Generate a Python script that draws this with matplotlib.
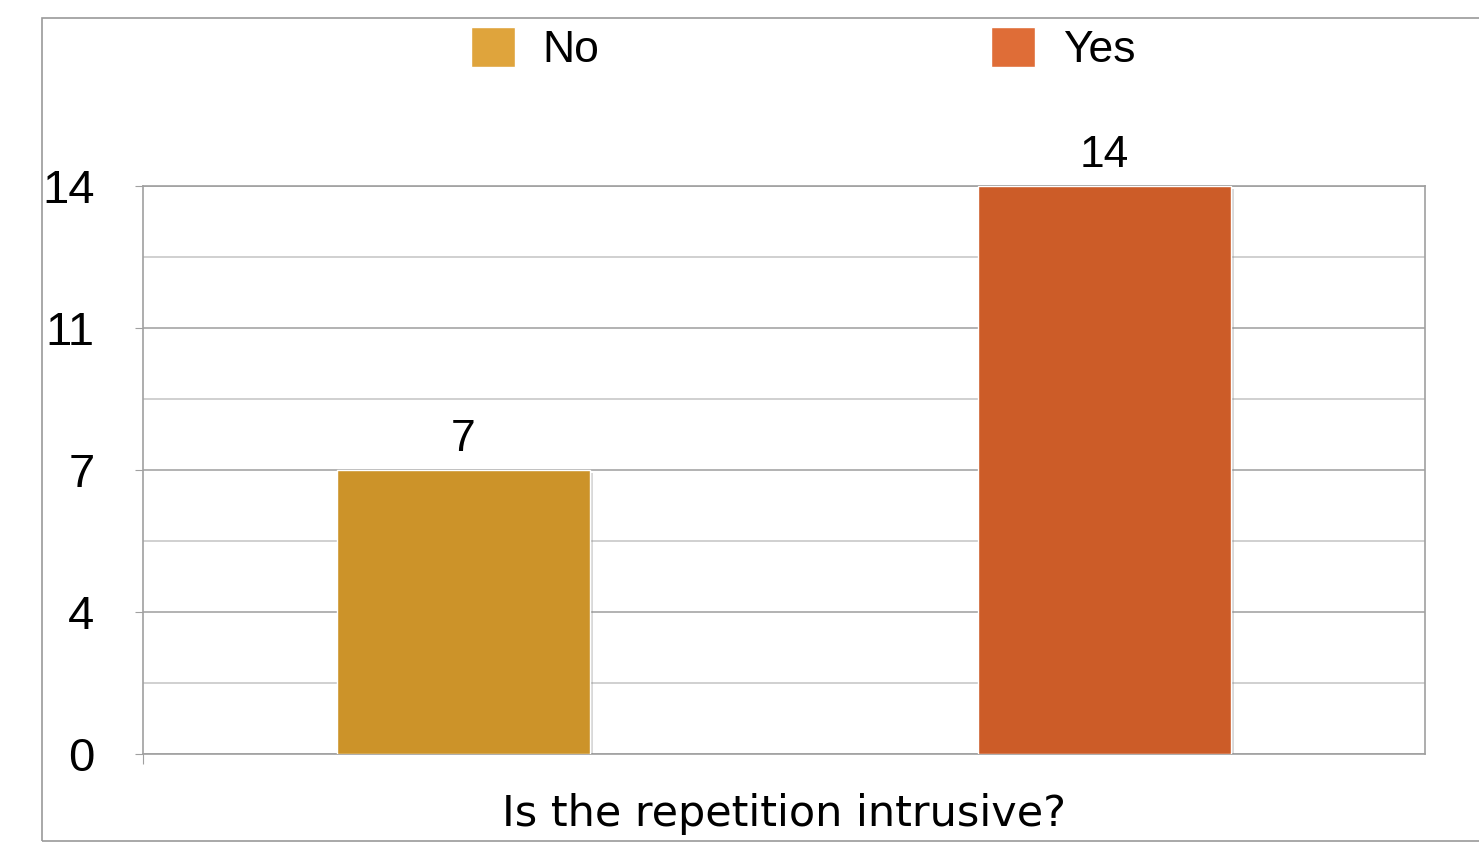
import matplotlib.pyplot as plt
import matplotlib.patheffects as pe
from matplotlib.patches import Rectangle

categories = ["No", "Yes"]
counts = [7, 14]
bar_colors = ["#CC9329", "#CC5C28"]
legend_colors = ["#DFA43C", "#DF6D37"]
y_ticks = [0, 3.5, 7, 10.5, 14]
y_labels = ["0", "4", "7", "11", "14"]
x_label = "Is the repetition intrusive?"

fig = plt.figure(figsize=(14.79, 8.44), dpi=100)
ax = fig.add_axes([143 / 1479, 90 / 844, 1282 / 1479, 568 / 844])

# outer frame of the chart area
fig.patches.append(Rectangle((42 / 1479, 3 / 844), 1.2, 823 / 844,
                             transform=fig.transFigure, fill=False,
                             edgecolor="#9A9A9A", linewidth=1.2))

x = list(range(len(categories)))
bars = ax.bar(x, counts, width=0.396, color=bar_colors, edgecolor="white",
              linewidth=1, zorder=3)
for b in bars:
    b.set_path_effects([pe.SimplePatchShadow(offset=(2, -2), shadow_rgbFace="gray", alpha=0.3),
                        pe.Normal()])

for xi, v in zip(x, counts):
    ax.text(xi, v + 0.25, str(v), ha="center", va="bottom", fontsize=32,
            family="Liberation Sans")

ax.set_xlim(-0.5, 1.5)
ax.set_ylim(0, 14)
ax.set_yticks(y_ticks)
ax.set_yticklabels(y_labels, family="Liberation Sans", fontsize=34)
ax.set_yticks([1.75, 5.25, 8.75, 12.25], minor=True)
ax.tick_params(axis="y", which="major", length=6, color="#A0A0A0", pad=29)
ax.tick_params(axis="y", which="minor", length=0)
ax.set_xticks([-0.5])
ax.set_xticklabels([""])
ax.tick_params(axis="x", length=7, color="#A0A0A0")

ax.grid(axis="y", which="major", color="#A6A6A6", linewidth=1.2, zorder=0)
ax.grid(axis="y", which="minor", color="#C8C8C8", linewidth=1.2, zorder=0)
ax.set_axisbelow(True)
for s in ax.spines.values():
    s.set_color("#A0A0A0")
    s.set_linewidth(1.2)

fig.text(784 / 1479, 1 - 814 / 844, x_label, ha="center", va="center",
         fontsize=31, family="DejaVu Sans")

leg = fig.legend(bars, categories, loc="center", ncol=2,
                 bbox_to_anchor=(803 / 1479, 1 - 49 / 844), frameon=False,
                 prop={"family": "Liberation Sans", "size": 32},
                 handlelength=1.0, handleheight=1.0, handletextpad=0.62,
                 columnspacing=8.8, borderpad=0, borderaxespad=0)
for h, c in zip(leg.legend_handles, legend_colors):
    h.set_facecolor(c)
    h.set_edgecolor("white")
    h.set_path_effects([])

fig.savefig("out.png", dpi=100)
